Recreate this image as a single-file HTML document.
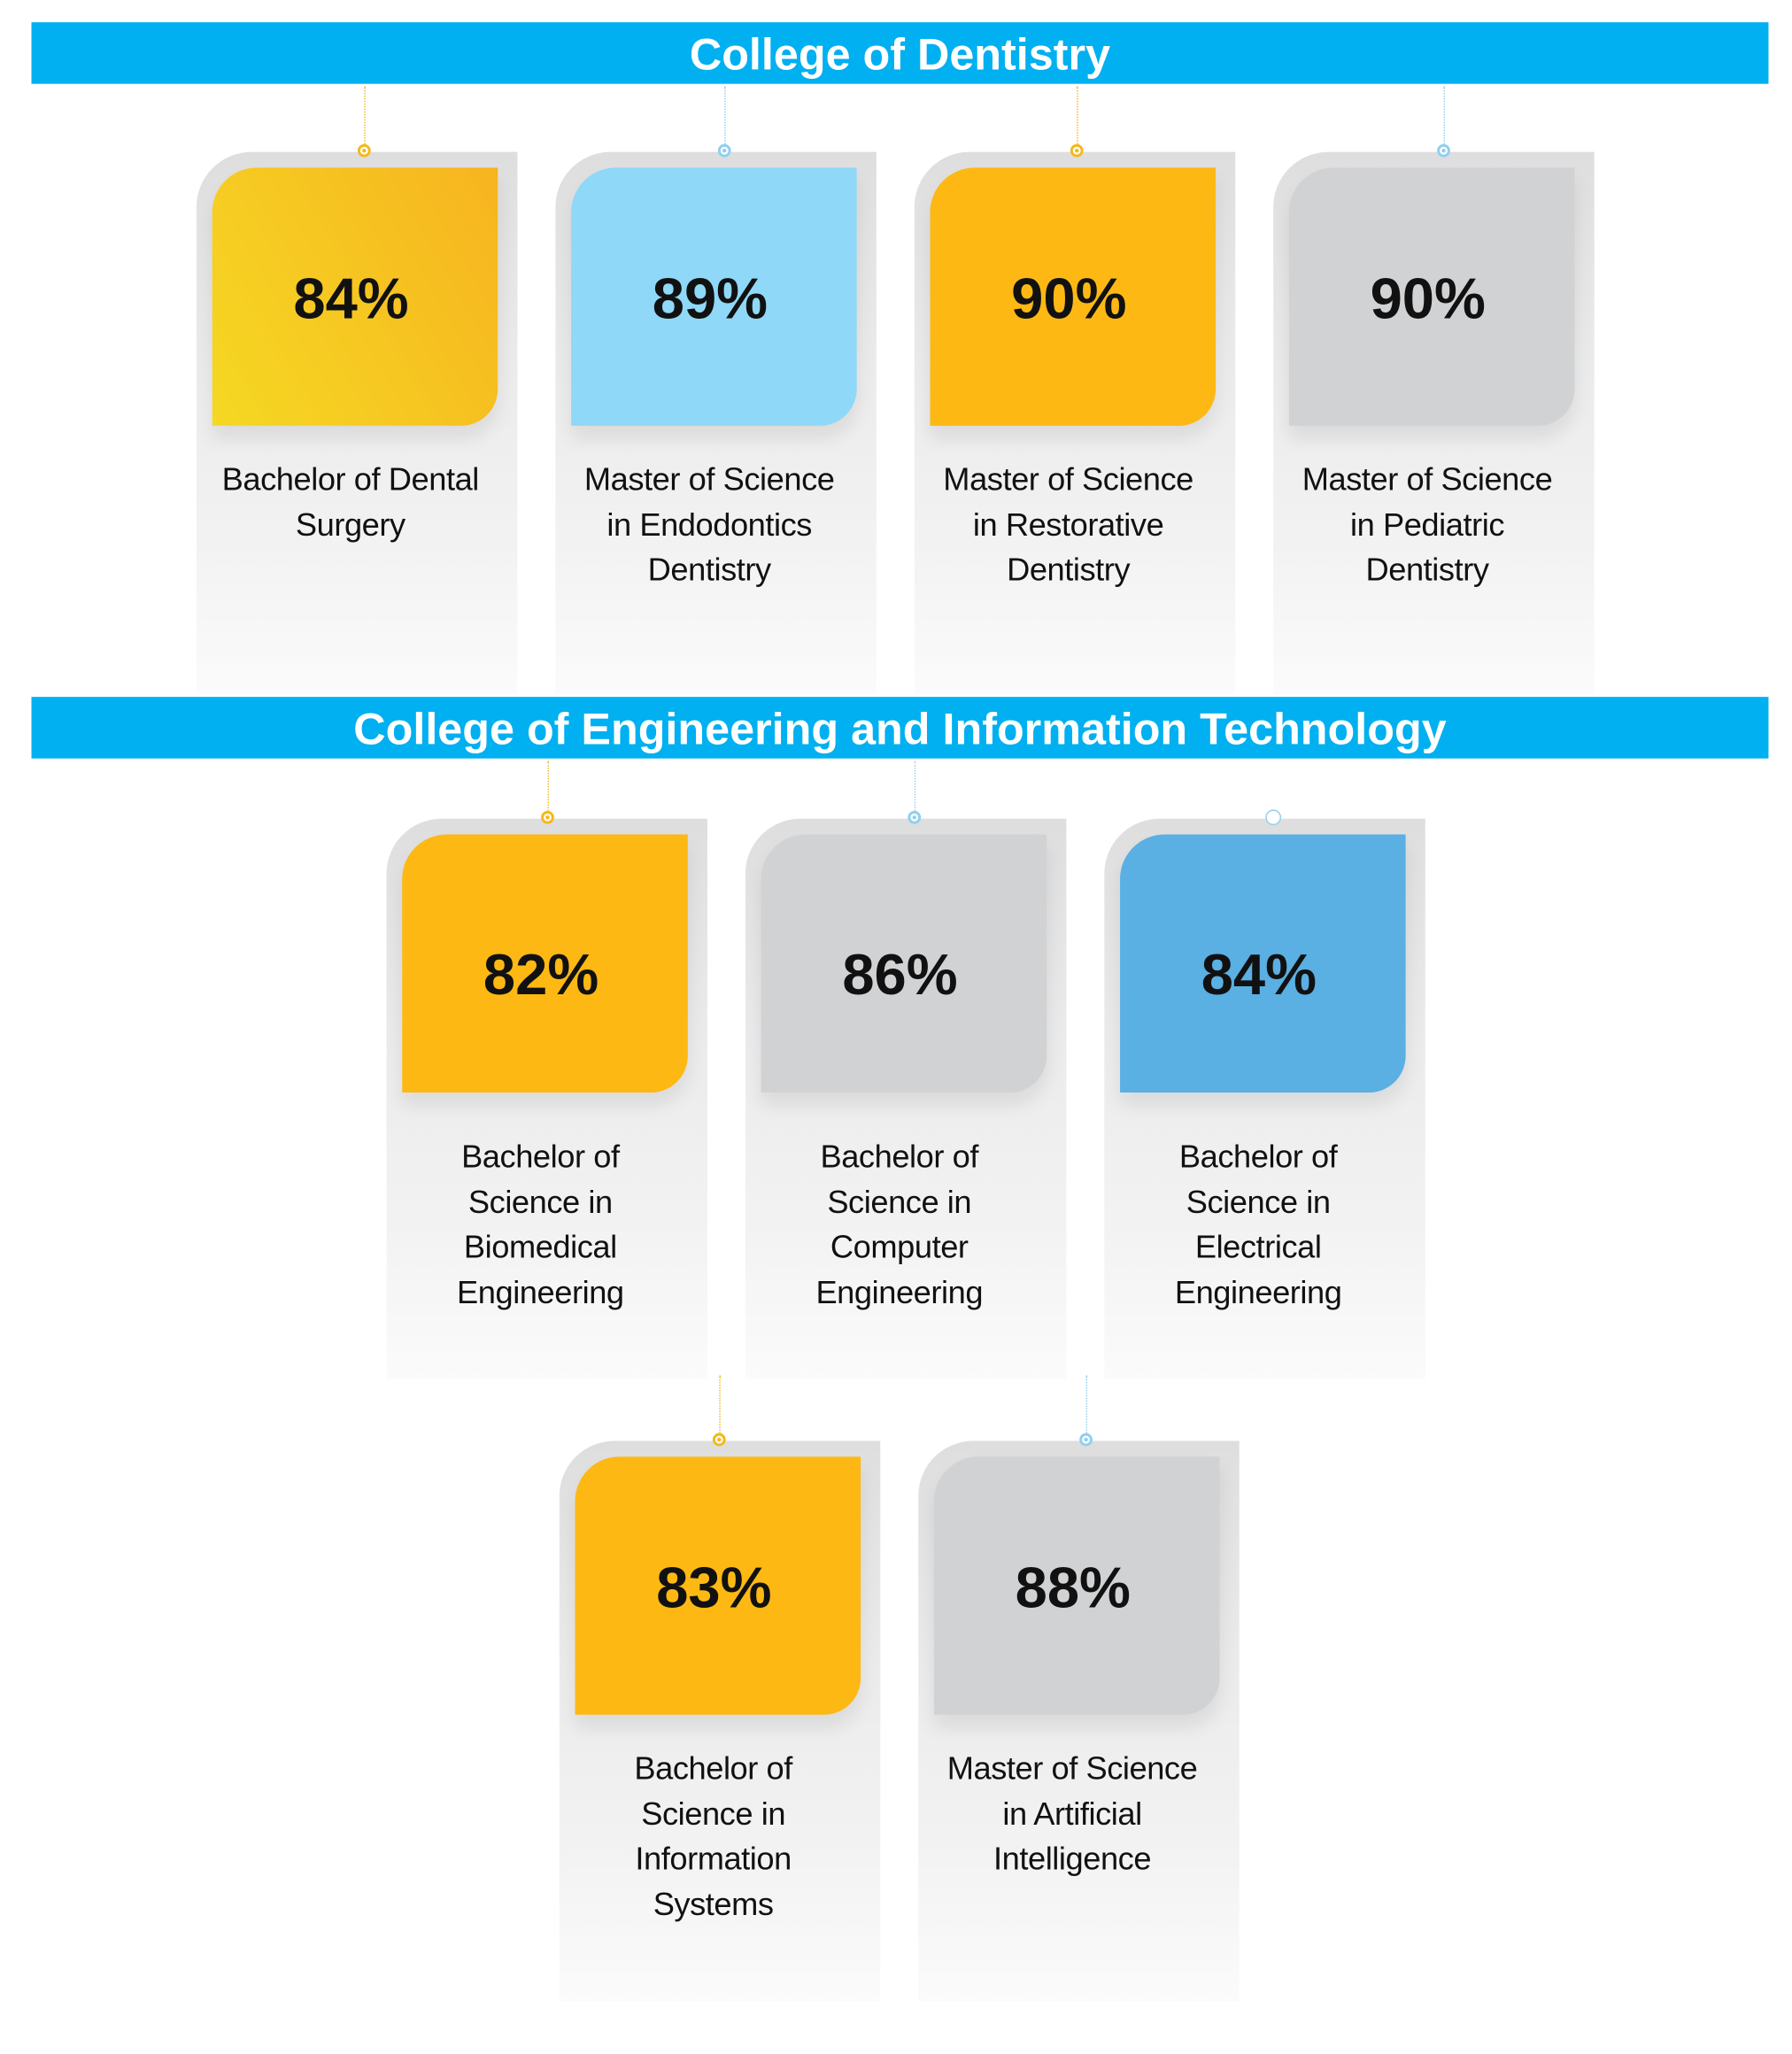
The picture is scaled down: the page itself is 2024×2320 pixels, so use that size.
<!DOCTYPE html>
<html><head><meta charset="utf-8"><style>
html,body{margin:0;padding:0;background:#fff;width:2024px;height:2320px;overflow:hidden}
#w{position:absolute;left:0;top:0;width:1372px;height:1568px;transform:scale(1.4796,1.4796);transform-origin:0 0;font-family:"Liberation Sans",sans-serif}
.ban{position:absolute;left:24px;width:1326px;height:47px;background:#00b0f0;color:#fff;font-weight:bold;font-size:34px;text-align:center;line-height:50px}
.card{position:absolute;width:245px;height:414px;border-top-left-radius:42px;background:linear-gradient(180deg,#dedede 0%,#ebebeb 40%,#f3f3f3 75%,#fbfbfb 100%)}
.tall{height:428px}
.in{position:absolute;left:12px;top:12px;width:212px;padding-right:6px;height:197px;border-top-left-radius:34px;border-bottom-right-radius:28px;box-shadow:0 10px 14px rgba(0,0,0,0.08);text-align:center;line-height:202px;font-weight:bold;font-size:44px;color:#111}
.r2 .in{line-height:216px}
.lb{position:absolute;left:-10px;top:234px;width:255px;text-align:center;font-size:24.5px;line-height:34.5px;color:#111;letter-spacing:-0.3px}
.r2 .lb{top:242px}
.ln{position:absolute;width:0;border-left:1.5px dotted;z-index:2}
.dot{position:absolute;width:10px;height:10px;border-radius:50%;border:2px solid;background:#fff;box-sizing:border-box;z-index:3}
</style></head><body><div id="w">
<div class="ban" style="top:17px">College of Dentistry</div>
<div class="ban" style="top:532px">College of Engineering and Information Technology</div>

<div class="card" style="left:150px;top:116px"><div class="in" style="background:linear-gradient(60deg,#f5d823,#f7b41f)">84%</div><div class="lb">Bachelor of Dental<br>Surgery</div></div>
<div class="card" style="left:424px;top:116px"><div class="in" style="background:#8fd8f7">89%</div><div class="lb">Master of Science<br>in Endodontics<br>Dentistry</div></div>
<div class="card" style="left:698px;top:116px"><div class="in" style="background:#fdb813">90%</div><div class="lb">Master of Science<br>in Restorative<br>Dentistry</div></div>
<div class="card" style="left:972px;top:116px"><div class="in" style="background:#d1d2d4">90%</div><div class="lb">Master of Science<br>in Pediatric<br>Dentistry</div></div>

<div class="card tall r2" style="left:295px;top:625px"><div class="in" style="background:#fdb813">82%</div><div class="lb">Bachelor of<br>Science in<br>Biomedical<br>Engineering</div></div>
<div class="card tall r2" style="left:569px;top:625px"><div class="in" style="background:#d1d2d4">86%</div><div class="lb">Bachelor of<br>Science in<br>Computer<br>Engineering</div></div>
<div class="card tall r2" style="left:843px;top:625px"><div class="in" style="background:#5aafe3">84%</div><div class="lb">Bachelor of<br>Science in<br>Electrical<br>Engineering</div></div>

<div class="card tall" style="left:427px;top:1100px"><div class="in" style="background:#fdb813">83%</div><div class="lb">Bachelor of<br>Science in<br>Information<br>Systems</div></div>
<div class="card tall" style="left:701px;top:1100px"><div class="in" style="background:#d1d2d4">88%</div><div class="lb">Master of Science<br>in Artificial<br>Intelligence</div></div>

<div class="ln" style="left:278px;top:66px;height:44px;border-color:#f5b81c"></div><div class="dot" style="left:273px;top:110px;border-color:#f5b81c;background:radial-gradient(#f5b81c 30%,#fff 40%)"></div>
<div class="ln" style="left:553px;top:66px;height:44px;border-color:#8fd0ee"></div><div class="dot" style="left:548px;top:110px;border-color:#8fd0ee;background:radial-gradient(#8fd0ee 30%,#fff 40%)"></div>
<div class="ln" style="left:822px;top:66px;height:44px;border-color:#f5b81c"></div><div class="dot" style="left:817px;top:110px;border-color:#f5b81c;background:radial-gradient(#f5b81c 30%,#fff 40%)"></div>
<div class="ln" style="left:1102px;top:66px;height:44px;border-color:#8fd0ee"></div><div class="dot" style="left:1097px;top:110px;border-color:#8fd0ee;background:radial-gradient(#8fd0ee 30%,#fff 40%)"></div>

<div class="ln" style="left:418px;top:581px;height:38px;border-color:#f5b81c"></div><div class="dot" style="left:413px;top:619px;border-color:#f5b81c;background:radial-gradient(#f5b81c 30%,#fff 40%)"></div>
<div class="ln" style="left:698px;top:581px;height:38px;border-color:#8fd0ee"></div><div class="dot" style="left:693px;top:619px;border-color:#8fd0ee;background:radial-gradient(#8fd0ee 30%,#fff 40%)"></div>
<div class="dot" style="left:966px;top:618px;width:12px;height:12px;border-width:1.5px;border-color:#8fd0ee"></div>

<div class="ln" style="left:549px;top:1050px;height:44px;border-color:#f5b81c"></div><div class="dot" style="left:544px;top:1094px;border-color:#f5b81c;background:radial-gradient(#f5b81c 30%,#fff 40%)"></div>
<div class="ln" style="left:829px;top:1050px;height:44px;border-color:#8fd0ee"></div><div class="dot" style="left:824px;top:1094px;border-color:#8fd0ee;background:radial-gradient(#8fd0ee 30%,#fff 40%)"></div>
</div></body></html>
